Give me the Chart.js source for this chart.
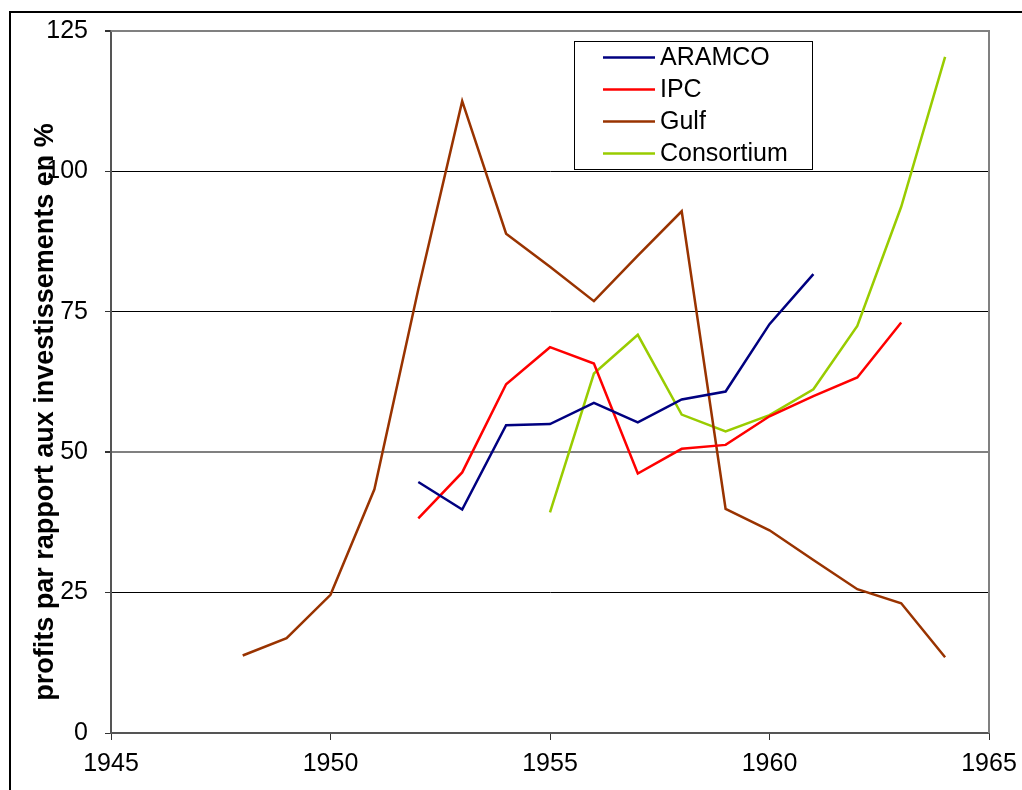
<!DOCTYPE html>
<html><head><meta charset="utf-8">
<style>html,body{margin:0;padding:0;background:#fff;overflow:hidden}canvas{display:block}</style>
<script src="https://cdn.jsdelivr.net/npm/chart.js@4"></script>
</head><body>
<canvas id="c" width="1022" height="790"></canvas>
<script>
const years = [1948,1949,1950,1951,1952,1953,1954,1955,1956,1957,1958,1959,1960,1961,1962,1963,1964];
const aramco = [null,null,null,null,44.7,39.8,54.8,55.0,58.8,55.3,59.4,60.8,72.8,81.7,null,null,null];
const ipc = [null,null,null,null,38.2,46.4,62.1,68.7,65.8,46.2,50.6,51.3,56.4,60.0,63.3,73.1,null];
const gulf = [13.8,16.9,24.6,43.4,79.0,112.5,88.9,83.0,76.9,85.0,92.9,39.9,36.1,30.8,25.6,23.1,13.5];
const consortium = [null,null,null,null,null,null,null,39.3,64.0,70.9,56.7,53.7,56.6,61.2,72.5,93.7,120.4];
const seriesNames = ['ARAMCO','IPC','Gulf','Consortium'];
const seriesColors = ['#000080','#FF0000','#993300','#99CC00'];
const yTicks = [0,25,50,75,100,125];
const xTicks = [1945,1950,1955,1960,1965];
const yTitle = 'profits par rapport aux investissements en %';

const FONT = '"Liberation Sans", Arial, sans-serif';
function pts(arr){ return years.map((yr,i)=>({x:yr,y:arr[i]})).filter(p=>p.y!==null); }
const allSeries = [aramco, ipc, gulf, consortium];

const framePlugin = {
  id:'frame',
  beforeDraw(chart){
    const c = chart.ctx;
    c.save();
    c.fillStyle='#fff'; c.fillRect(0,0,chart.width,chart.height);
    c.strokeStyle='#000'; c.lineWidth=2;
    c.strokeRect(10,12,1100,1000);
    c.restore();
  },
  afterDatasetsDraw(chart){
    const c = chart.ctx, a = chart.chartArea;
    c.save();
    c.strokeStyle='#808080'; c.lineWidth=2;
    c.beginPath(); c.moveTo(a.left,a.top); c.lineTo(a.right,a.top); c.lineTo(a.right,a.bottom); c.stroke();
    c.restore();
  },
  afterDraw(chart){
    const c = chart.ctx;
    c.save();
    c.translate(53, 412);
    c.rotate(-Math.PI/2);
    c.font = 'bold 27px '+FONT;
    c.fillStyle='#000';
    c.textAlign='center'; c.textBaseline='alphabetic';
    c.fillText(yTitle,0,0);
    c.restore();
    c.save();
    const bx=574.5, by=41.5, bw=238, bh=128;
    c.fillStyle='#fff'; c.fillRect(bx,by,bw,bh);
    c.strokeStyle='#000'; c.lineWidth=1; c.strokeRect(bx,by,bw,bh);
    c.font='25px '+FONT; c.textBaseline='middle'; c.textAlign='left';
    seriesNames.forEach((n,i)=>{
      const y = 57.5 + i*32;
      c.strokeStyle=seriesColors[i]; c.lineWidth=2.5;
      c.beginPath(); c.moveTo(603,y); c.lineTo(655,y); c.stroke();
      c.fillStyle='#000'; c.fillText(n,660,y+1);
    });
    c.restore();
  }
};

new Chart(document.getElementById('c'), {
  type:'line',
  data:{ datasets: seriesNames.map((n,i)=>({
    label:n, data:pts(allSeries[i]), borderColor:seriesColors[i], backgroundColor:seriesColors[i],
    borderWidth:2.5, pointRadius:0, tension:0, fill:false
  }))},
  options:{
    responsive:false, animation:false, devicePixelRatio:1,
    layout:{padding:{left:0,right:33,top:31,bottom:0}},
    plugins:{legend:{display:false}, tooltip:{enabled:false}},
    scales:{
      x:{type:'linear', min:1945, max:1965,
        afterBuildTicks:s=>{ s.ticks = xTicks.map(v=>({value:v})); },
        ticks:{color:'#000', font:{family:FONT,size:25}, padding:9, maxRotation:0, autoSkip:false, callback:v=>String(v)},
        grid:{drawOnChartArea:false, drawTicks:true, tickLength:7, tickColor:'#333', lineWidth:1},
        border:{color:'#555', width:2},
        afterFit:s=>{ s.height = 57; s.paddingLeft = 0; s.paddingRight = 0; }
      },
      y:{min:0, max:125,
        afterBuildTicks:s=>{ s.ticks = yTicks.map(v=>({value:v})); },
        ticks:{color:'#000', font:{family:FONT,size:25}, padding:17, callback:v=>String(v)},
        grid:{
          color:ctx=>{ const v=ctx.tick&&ctx.tick.value; if(v===0) return 'rgba(0,0,0,0)'; if(v===125||v===50) return '#808080'; return '#000'; },
          lineWidth:ctx=>{ const v=ctx.tick&&ctx.tick.value; return (v===125||v===50)?2:1; },
          tickColor:'#333', tickLength:6, drawTicks:true
        },
        border:{color:'#555', width:2},
        afterFit:s=>{ s.width = 111; s.paddingTop = 0; s.paddingBottom = 0; }
      }
    }
  },
  plugins:[framePlugin]
});
</script>
</body></html>
